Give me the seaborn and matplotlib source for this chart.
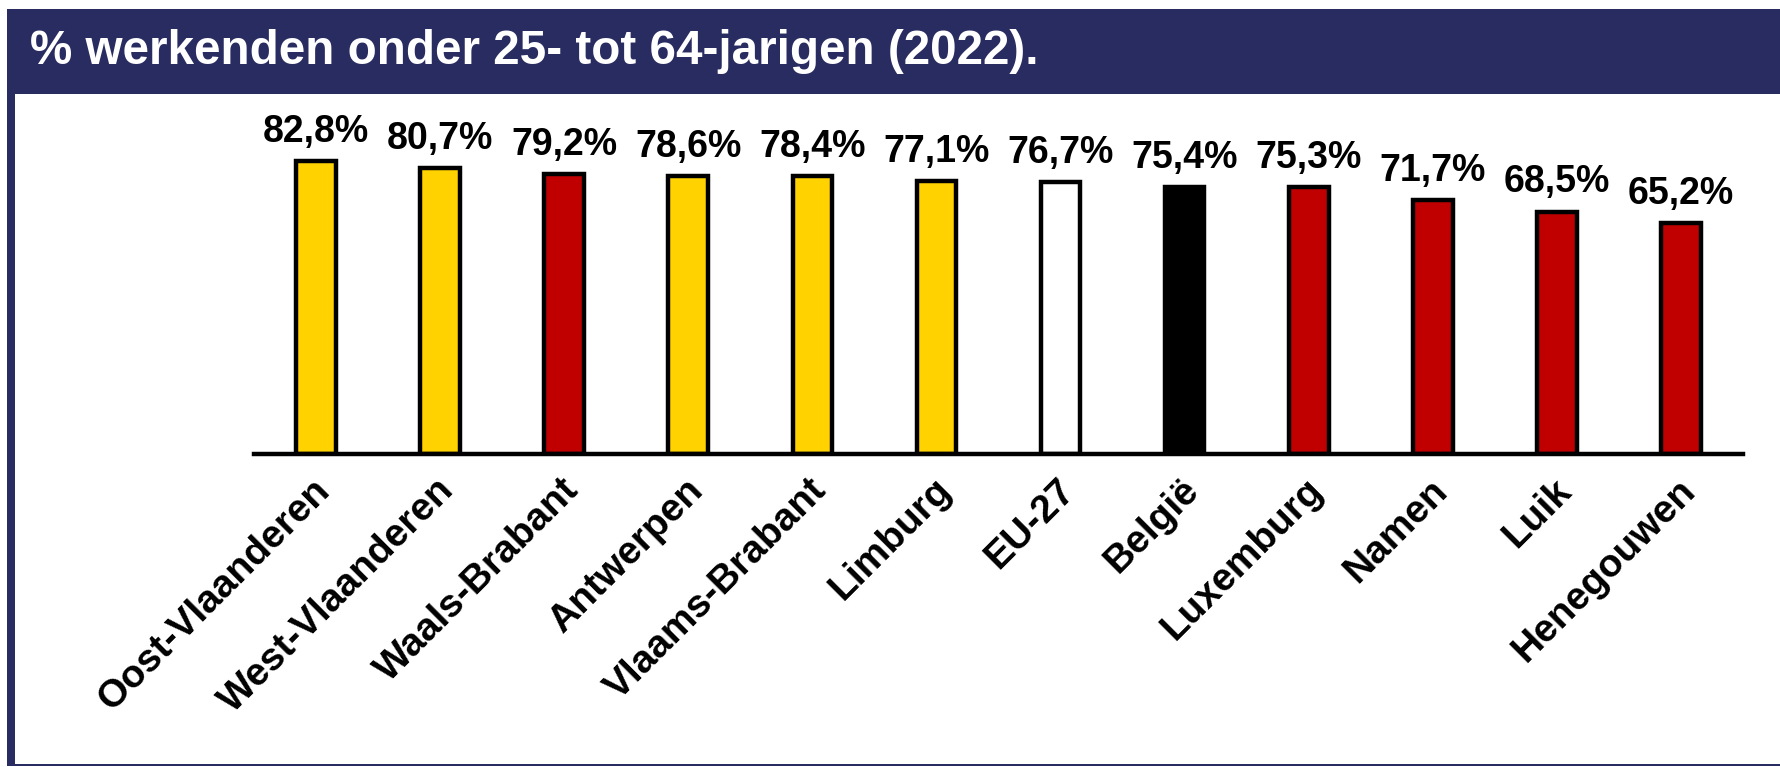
import matplotlib
matplotlib.use("Agg")
import matplotlib.pyplot as plt
import matplotlib.transforms as mtransforms
from matplotlib.patches import Rectangle
import seaborn as sns

# data
regions = ["Oost-Vlaanderen", "West-Vlaanderen", "Waals-Brabant", "Antwerpen",
           "Vlaams-Brabant", "Limburg", "EU-27", "België", "Luxemburg",
           "Namen", "Luik", "Henegouwen"]
employment_rate = [82.8, 80.7, 79.2, 78.6, 78.4, 77.1, 76.7, 75.4, 75.3, 71.7, 68.5, 65.2]
region_group = ["Vlaanderen", "Vlaanderen", "Wallonië", "Vlaanderen", "Vlaanderen",
                "Vlaanderen", "EU", "België", "Wallonië", "Wallonië", "Wallonië", "Wallonië"]
title = "% werkenden onder 25- tot 64-jarigen (2022)."

group_colors = {"Vlaanderen": "#FFD200", "Wallonië": "#C00000",
                "EU": "#FFFFFF", "België": "#000000"}
NAVY = "#292C61"

sns.set_style("white")
plt.rcParams["font.family"] = ["Liberation Sans", "DejaVu Sans"]
plt.rcParams["font.weight"] = "bold"

W, H = 1781, 767
fig = plt.figure(figsize=(W / 100, H / 100), dpi=100)


def fx(px):
    return px / W


def fy(py):
    return 1 - py / H


# frame: title bar, left border, bottom line
fig.add_artist(Rectangle((fx(7), fy(94)), fx(W - 7) + 0.01, (94 - 9) / H,
                         transform=fig.transFigure, facecolor=NAVY, edgecolor="none"))
fig.add_artist(Rectangle((fx(7), fy(765)), fx(8), (765 - 94) / H,
                         transform=fig.transFigure, facecolor=NAVY, edgecolor="none"))
fig.add_artist(Rectangle((fx(7), fy(766)), fx(W - 7) + 0.01, 2 / H,
                         transform=fig.transFigure, facecolor=NAVY, edgecolor="none"))
fig.text(fx(30), fy(52), title, color="white", fontsize=34.3, fontweight="bold",
         va="center", ha="left")

ax_left, ax_right = 254, 1743
ax_base, ax_top = 454, 100
ax = fig.add_axes([fx(ax_left), fy(ax_base), fx(ax_right - ax_left), (ax_base - ax_top) / H])

bar_colors = [group_colors[g] for g in region_group]
sns.barplot(x=regions, y=employment_rate, hue=regions, palette=bar_colors, legend=False,
            saturation=1, width=0.32, edgecolor="black", linewidth=3.2, ax=ax)

ax.set_xlim(-0.5, len(regions) - 0.5)
ax.set_ylim(0, 100)
ax.set_yticks([])
for side in ["left", "right", "top"]:
    ax.spines[side].set_visible(False)
ax.spines["bottom"].set_linewidth(3.2)
ax.spines["bottom"].set_color("black")
ax.patch.set_alpha(0)

for p, v in zip(ax.patches, employment_rate):
    ax.annotate(f"{v:.1f}%".replace(".", ","), (p.get_x() + p.get_width() / 2, p.get_height()),
                ha="center", va="bottom", xytext=(0, 8), textcoords="offset points",
                fontsize=27, fontweight="bold", color="black")

ax.tick_params(axis="x", length=0, pad=13, colors="black")
offset = mtransforms.ScaledTranslation(-4 / 100, 0, fig.dpi_scale_trans)
for lbl in ax.get_xticklabels():
    lbl.set_rotation(45)
    lbl.set_ha("right")
    lbl.set_va("top")
    lbl.set_rotation_mode("anchor")
    lbl.set_fontsize(28)
    lbl.set_fontweight("bold")
    lbl.set_color("black")
    lbl.set_transform(lbl.get_transform() + offset)
ax.set_xlabel("")
ax.set_ylabel("")

fig.savefig("out.png", dpi=100, facecolor="white")
